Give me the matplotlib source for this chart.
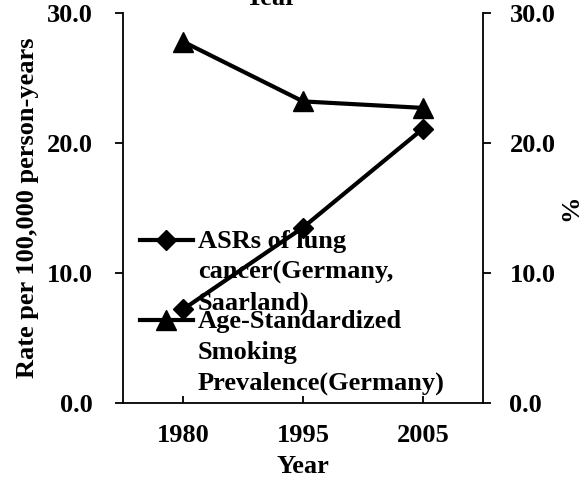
import matplotlib
matplotlib.use("Agg")
import matplotlib.pyplot as plt

years = ["1980", "1995", "2005"]
asr_lung = [7.2, 13.5, 21.1]
smoking_prev = [27.8, 23.2, 22.7]
yticks = [0, 10, 20, 30]
ytick_labels = ["0.0", "10.0", "20.0", "30.0"]
legend1 = ["ASRs of lung", "cancer(Germany,", "Saarland)"]
legend2 = ["Age-Standardized", "Smoking", "Prevalence(Germany)"]

plt.rcParams['font.family'] = ['Liberation Serif', 'DejaVu Serif']
plt.rcParams['font.weight'] = 'bold'
FS = 19

W, H = 587, 484
fig = plt.figure(figsize=(W/100, H/100), dpi=100)
L, R, T, B = 123, 483, 13, 403
ax = fig.add_axes([L/W, 1-B/H, (R-L)/W, (B-T)/H])
ax2 = ax.twinx()

LW = 3
x = list(range(len(years)))
ax.plot(x, asr_lung, color='black', lw=LW, marker='D', ms=10, zorder=5, clip_on=False)
ax2.plot(x, smoking_prev, color='black', lw=LW, marker='^', ms=14, zorder=5, clip_on=False)

for a in (ax, ax2):
    a.set_ylim(0, 30)
    a.set_yticks(yticks)
    a.set_yticklabels(ytick_labels, fontsize=FS, fontweight='bold')
    a.spines['top'].set_visible(False)
    for s in a.spines.values():
        s.set_linewidth(1.3)
ax.set_xlim(-0.5, 2.5)
ax.set_xticks(x)
ax.set_xticklabels(years, fontsize=FS, fontweight='bold')
ax.tick_params(axis='x', direction='in', length=5, width=1.3, pad=15)
ax.tick_params(axis='y', direction='out', length=6, width=1.3, pad=16)
ax2.tick_params(axis='y', direction='out', length=6, width=1.3, pad=13)
ax2.spines['left'].set_visible(False)
ax2.spines['bottom'].set_visible(False)
ax.spines['right'].set_visible(False)

ax.set_xlabel("Year", fontsize=FS, fontweight='bold', labelpad=6)
ax.set_ylabel("Rate per 100,000 person-years", fontsize=FS, fontweight='bold', labelpad=5)
ax2.set_ylabel("%", fontsize=FS, fontweight='bold', labelpad=3)

fig.text(271/W, 1-5/H, "Year", ha='center', va='baseline', fontsize=FS, fontweight='bold')

# manual legend (Excel-style, overlapping the plot)
def px(xp, yp):
    return ((xp - L)/(R - L), (B - yp)/(B - T))

step = 31
for lines, hy, marker, ms in ((legend1, 240, 'D', 10), (legend2, 320, '^', 14)):
    x0, y0 = px(140, hy)
    x1, _ = px(193, hy)
    xm, _ = px(166, hy)
    ax.plot([x0, x1], [y0, y0], color='black', lw=LW, transform=ax.transAxes, clip_on=False)
    ax.plot([xm], [y0], color='black', marker=marker, ms=ms, transform=ax.transAxes, clip_on=False)
    for i, t in enumerate(lines):
        tx, ty = px(198, hy + 8 + i*step)
        ax.text(tx, ty, t, transform=ax.transAxes, fontsize=FS, fontweight='bold',
                ha='left', va='baseline')

fig.savefig("out.png", dpi=100)
